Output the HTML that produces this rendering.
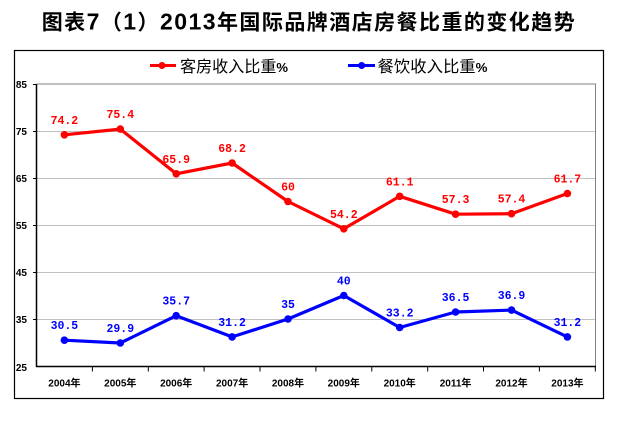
<!DOCTYPE html>
<html><head><meta charset="utf-8"><style>
html,body{margin:0;padding:0;background:#fff;}
svg{display:block;}
</style></head><body>
<svg width="623" height="429" viewBox="0 0 623 429" xmlns="http://www.w3.org/2000/svg">
<rect width="623" height="429" fill="#fff"/>
<text x="41.7" y="29.5" font-size="21" font-weight="bold" textLength="533" lengthAdjust="spacing" font-family="'Liberation Sans','Noto Sans CJK SC',sans-serif" fill="#000">图表<tspan font-size="23">7</tspan>（<tspan font-size="23">1</tspan>）<tspan font-size="23">2013</tspan>年国际品牌酒店房餐比重的变化趋势</text>
<rect x="14.5" y="50.5" width="589" height="348" fill="none" stroke="#000" stroke-width="1.2"/>
<!-- legend -->
<line x1="150" y1="65.5" x2="176" y2="65.5" stroke="#ff0000" stroke-width="3"/>
<circle cx="162" cy="65.5" r="3.5" fill="#ff0000"/>
<text x="180" y="72" font-size="16" textLength="108" lengthAdjust="spacingAndGlyphs" font-family="'Liberation Sans','Noto Sans CJK SC',sans-serif" fill="#000">客房收入比重<tspan font-weight="bold" font-size="13">%</tspan></text>
<line x1="348" y1="65.5" x2="375" y2="65.5" stroke="#0000ff" stroke-width="3"/>
<circle cx="361.7" cy="65.5" r="3.5" fill="#0000ff"/>
<text x="377.5" y="72" font-size="16" textLength="110" lengthAdjust="spacingAndGlyphs" font-family="'Liberation Sans','Noto Sans CJK SC',sans-serif" fill="#000">餐饮收入比重<tspan font-weight="bold" font-size="13">%</tspan></text>
<!-- gridlines -->
<g stroke="#c0c0c0" stroke-width="1">
<line x1="36.5" y1="131.5" x2="595.5" y2="131.5"/>
<line x1="36.5" y1="178.5" x2="595.5" y2="178.5"/>
<line x1="36.5" y1="225.5" x2="595.5" y2="225.5"/>
<line x1="36.5" y1="272.5" x2="595.5" y2="272.5"/>
<line x1="36.5" y1="319.5" x2="595.5" y2="319.5"/>
</g>
<polyline points="36.5,84 595.5,84 595.5,366.5" fill="none" stroke="#808080" stroke-width="1"/>
<!-- axes -->
<line x1="36.5" y1="84" x2="36.5" y2="367" stroke="#000" stroke-width="1.5"/>
<line x1="36" y1="366.5" x2="596" y2="366.5" stroke="#000" stroke-width="1.5"/>
<g stroke="#000" stroke-width="1">
<line x1="33" y1="84.5" x2="36" y2="84.5"/>
<line x1="33" y1="131.5" x2="36" y2="131.5"/>
<line x1="33" y1="178.5" x2="36" y2="178.5"/>
<line x1="33" y1="225.5" x2="36" y2="225.5"/>
<line x1="33" y1="272.5" x2="36" y2="272.5"/>
<line x1="33" y1="319.5" x2="36" y2="319.5"/>
<line x1="92.4" y1="366" x2="92.4" y2="371.5"/>
<line x1="148.3" y1="366" x2="148.3" y2="371.5"/>
<line x1="204.1" y1="366" x2="204.1" y2="371.5"/>
<line x1="260" y1="366" x2="260" y2="371.5"/>
<line x1="315.9" y1="366" x2="315.9" y2="371.5"/>
<line x1="371.8" y1="366" x2="371.8" y2="371.5"/>
<line x1="427.7" y1="366" x2="427.7" y2="371.5"/>
<line x1="483.5" y1="366" x2="483.5" y2="371.5"/>
<line x1="539.4" y1="366" x2="539.4" y2="371.5"/>
<line x1="595.3" y1="366" x2="595.3" y2="371.5"/>
</g>
<!-- y labels -->
<g font-family="'Liberation Sans',sans-serif" font-size="10" font-weight="bold" fill="#000" text-anchor="end">
<text x="27" y="88">85</text>
<text x="27" y="135">75</text>
<text x="27" y="182">65</text>
<text x="27" y="229">55</text>
<text x="27" y="276">45</text>
<text x="27" y="323">35</text>
<text x="27" y="371">25</text>
</g>
<!-- x labels -->
<g font-family="'Liberation Sans','Noto Sans CJK SC',sans-serif" font-size="10" font-weight="bold" fill="#000" text-anchor="middle">
<text x="64.4" y="386.5">2004年</text>
<text x="120.3" y="386.5">2005年</text>
<text x="176.2" y="386.5">2006年</text>
<text x="232.1" y="386.5">2007年</text>
<text x="288" y="386.5">2008年</text>
<text x="343.8" y="386.5">2009年</text>
<text x="399.7" y="386.5">2010年</text>
<text x="455.6" y="386.5">2011年</text>
<text x="511.5" y="386.5">2012年</text>
<text x="567.4" y="386.5">2013年</text>
</g>
<!-- red series -->
<polyline points="64.4,134.8 120.3,129.1 176.2,173.8 232.1,163 288,201.5 343.8,228.8 399.7,196.3 455.6,214.2 511.5,213.7 567.4,193.5" fill="none" stroke="#ff0000" stroke-width="3.2" stroke-linejoin="round"/>
<g fill="#ff0000">
<circle cx="64.4" cy="134.8" r="3.8"/><circle cx="120.3" cy="129.1" r="3.8"/><circle cx="176.2" cy="173.8" r="3.8"/><circle cx="232.1" cy="163" r="3.8"/><circle cx="288" cy="201.5" r="3.8"/><circle cx="343.8" cy="228.8" r="3.8"/><circle cx="399.7" cy="196.3" r="3.8"/><circle cx="455.6" cy="214.2" r="3.8"/><circle cx="511.5" cy="213.7" r="3.8"/><circle cx="567.4" cy="193.5" r="3.8"/>
</g>
<g font-family="'Liberation Mono',monospace" font-size="11.5" font-weight="bold" fill="#ff0000" text-anchor="middle">
<text x="64.4" y="123.8">74.2</text>
<text x="120.3" y="118.1">75.4</text>
<text x="176.2" y="162.8">65.9</text>
<text x="232.1" y="152">68.2</text>
<text x="288" y="190.5">60</text>
<text x="343.8" y="217.8">54.2</text>
<text x="399.7" y="185.3">61.1</text>
<text x="455.6" y="203.2">57.3</text>
<text x="511.5" y="202.7">57.4</text>
<text x="567.4" y="182.5">61.7</text>
</g>
<!-- blue series -->
<polyline points="64.4,340.2 120.3,343 176.2,315.7 232.1,336.9 288,319 343.8,295.5 399.7,327.5 455.6,312 511.5,310.1 567.4,336.9" fill="none" stroke="#0000ff" stroke-width="3.2" stroke-linejoin="round"/>
<g fill="#0000ff">
<circle cx="64.4" cy="340.2" r="3.8"/><circle cx="120.3" cy="343" r="3.8"/><circle cx="176.2" cy="315.7" r="3.8"/><circle cx="232.1" cy="336.9" r="3.8"/><circle cx="288" cy="319" r="3.8"/><circle cx="343.8" cy="295.5" r="3.8"/><circle cx="399.7" cy="327.5" r="3.8"/><circle cx="455.6" cy="312" r="3.8"/><circle cx="511.5" cy="310.1" r="3.8"/><circle cx="567.4" cy="336.9" r="3.8"/>
</g>
<g font-family="'Liberation Mono',monospace" font-size="11.5" font-weight="bold" fill="#0000ff" text-anchor="middle">
<text x="64.4" y="329.2">30.5</text>
<text x="120.3" y="332">29.9</text>
<text x="176.2" y="304.7">35.7</text>
<text x="232.1" y="325.9">31.2</text>
<text x="288" y="308">35</text>
<text x="343.8" y="284.5">40</text>
<text x="399.7" y="316.5">33.2</text>
<text x="455.6" y="301">36.5</text>
<text x="511.5" y="299.1">36.9</text>
<text x="567.4" y="325.9">31.2</text>
</g>
</svg>
</body></html>
